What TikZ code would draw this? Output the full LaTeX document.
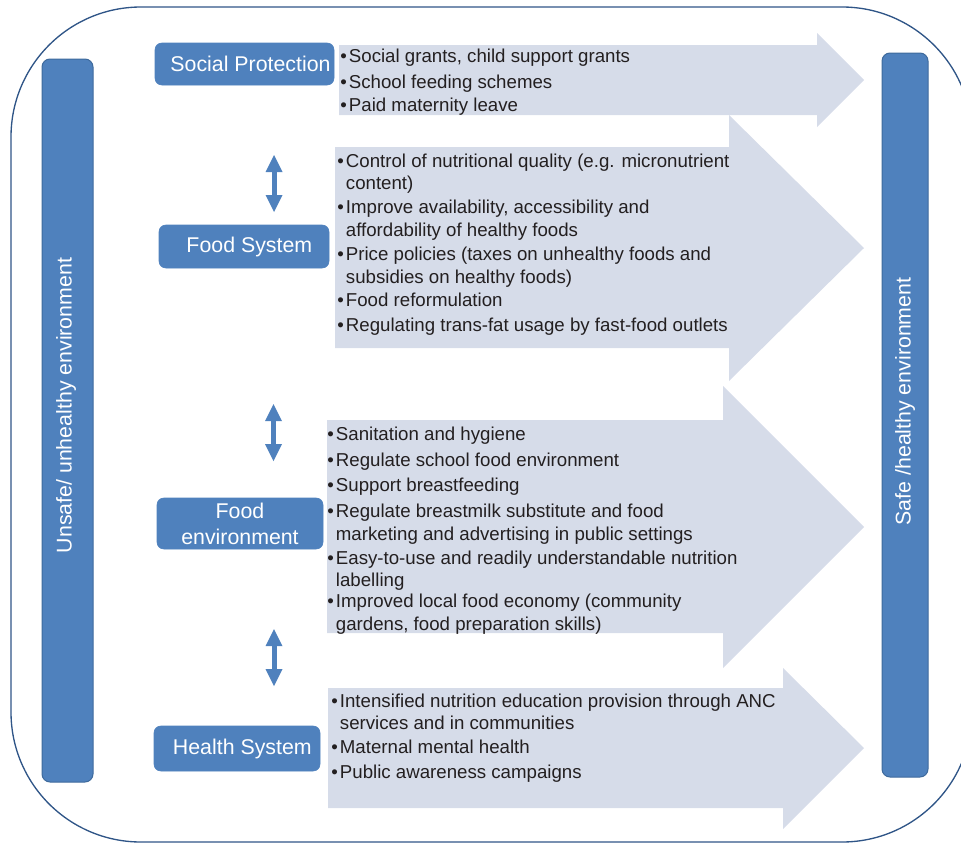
\documentclass[tikz,border=0pt]{standalone}
\usepackage{fontspec}
\setmainfont{Liberation Sans}
\usetikzlibrary{arrows.meta}
\definecolor{boxblue}{RGB}{79,129,189}
\definecolor{boxline}{RGB}{62,106,156}
\definecolor{arrowfill}{RGB}{214,220,233}
\definecolor{rimline}{RGB}{47,85,135}
\definecolor{bodytext}{RGB}{35,31,32}
\newcommand{\bl}{\makebox[6.5pt][l]{\textbullet}}
\newcommand{\ind}{\hspace*{6.5pt}}
\tikzset{
	catbox/.style={rectangle, rounded corners=5pt, fill=boxblue, draw=boxblue, text=white, font=\fontsize{16}{19.5}\selectfont, inner sep=0pt, align=center},
	sidebar/.style={rectangle, rounded corners=6pt, fill=boxblue, draw=boxline, line width=0.75pt, inner sep=0pt},
	sidelbl/.style={rotate=90, text=white, font=\fontsize{16}{19}\selectfont, inner sep=0pt},
	itemlist/.style={anchor=north west, inner sep=0pt, align=left, text=bodytext, font=\fontsize{14}{17}\selectfont},
	linkarrow/.style={draw=boxblue, line width=3.75pt, {Triangle[length=12.75pt,width=12.75pt,line width=0pt]}-{Triangle[length=12.75pt,width=12.75pt,line width=0pt]}}
}

\begin{document}
\begin{tikzpicture}[x=0.75pt, y=-0.75pt]
			%%%%% START %%%%%
			\useasboundingbox (0, 0) rectangle (961, 843);
			
			\draw[rimline, line width=1pt, rounded corners=97.5pt] (11, 7) rectangle (972, 842);
			
			% big arrows
			\fill[arrowfill] (339, 45) -- (817, 45) -- (817, 33) -- (864, 80) -- (817, 127) -- (817, 115) -- (339, 115) -- cycle;
			\fill[arrowfill] (335, 147) -- (729, 147) -- (729, 115) -- (864, 248) -- (729, 381) -- (729, 348) -- (335, 348) -- cycle;
			\fill[arrowfill] (327, 420) -- (723, 420) -- (723, 386) -- (864, 527) -- (723, 668) -- (723, 633) -- (327, 633) -- cycle;
			\fill[arrowfill] (328, 688) -- (783, 688) -- (783, 668) -- (864, 748) -- (783, 829) -- (783, 808) -- (328, 808) -- cycle;
			
			% side bars
			\node[sidebar, minimum width=38.25pt, minimum height=542.25pt] (unsafebar) at (67.5, 420.5) {};
			\node[sidelbl] (unsafelbl) at (66, 405.5) {Unsafe/ unhealthy environment};
			\node[sidebar, minimum width=34.5pt, minimum height=543pt] (safebar) at (905, 415) {};
			\node[sidelbl] (safelbl) at (905, 401.5) {Safe /healthy environment};
			
			% sectors
			\node[catbox, minimum width=134.25pt, minimum height=31.5pt] (socprot) at (244.5, 64) {\hspace*{9pt}Social Protection};
			\node[catbox, minimum width=127.5pt, minimum height=32.25pt] (foodsys) at (244, 246.5) {\hspace*{8pt}Food System};
			\node[catbox, minimum width=124.5pt, minimum height=38.25pt] (foodenv) at (240, 523.5) {Food\\environment};
			\node[catbox, minimum width=124.5pt, minimum height=33.75pt] (healthsys) at (237, 748.5) {\hspace*{8pt}Health System};
			
			\coordinate (lnk1a) at (274, 155);
			\coordinate (lnk1b) at (274, 212);
			\coordinate (lnk2a) at (273.5, 404);
			\coordinate (lnk2b) at (273.5, 461);
			\coordinate (lnk3a) at (274, 629);
			\coordinate (lnk3b) at (274, 686);
			\draw[linkarrow] (lnk1a) -- (lnk1b);
			\draw[linkarrow] (lnk2a) -- (lnk2b);
			\draw[linkarrow] (lnk3a) -- (lnk3b);
			
			% actions
			\node[itemlist] (socitems) at (340, 49.2) {\bl Social grants, child support grants\\[2.4pt]
				\bl School feeding schemes\\
				\bl Paid maternity leave};
			
			\node[itemlist] (fsitems) at (337, 153.3) {\bl Control of nutritional quality (e.g. micronutrient\\
				\ind content)\\[1pt]
				\bl Improve availability, accessibility and\\
				\ind affordability of healthy foods\\[1pt]
				\bl Price policies (taxes on unhealthy foods and\\
				\ind subsidies on healthy foods)\\[0.5pt]
				\bl Food reformulation\\[2pt]
				\bl Regulating trans-fat usage by fast-food outlets};
			
			\node[itemlist] (feitems) at (327, 426.6) {\bl Sanitation and hygiene\\[2.55pt]
				\bl Regulate school food environment\\[1.6pt]
				\bl Support breastfeeding\\[2.55pt]
				\bl Regulate breastmilk substitute and food\\
				\ind marketing and advertising in public settings\\[1.05pt]
				\bl Easy-to-use and readily understandable nutrition\\
				\ind labelling\\[-1.4pt]
				\bl Improved local food economy (community\\
				\ind gardens, food preparation skills)};
			
			\node[itemlist] (hsitems) at (331, 693.3) {\bl Intensified nutrition education provision through ANC\\
				\ind services and in communities\\[1pt]
				\bl Maternal mental health\\[1.8pt]
				\bl Public awareness campaigns};
			
			%%%%% END %%%%%
\end{tikzpicture}
\end{document}
